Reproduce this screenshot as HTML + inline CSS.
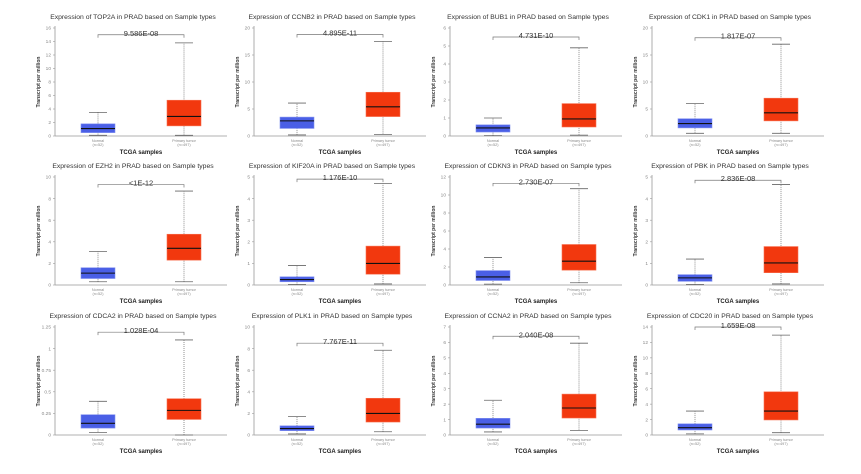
<!DOCTYPE html>
<html><head><meta charset="utf-8"><style>
body{margin:0;background:#fff;width:861px;height:474px;overflow:hidden}
svg{display:block;font-family:"Liberation Sans",sans-serif}
</style></head><body>
<svg id="c" width="861" height="474"></svg>
<script>
const genes=["TOP2A","CCNB2","BUB1","CDK1","EZH2","KIF20A","CDKN3","PBK","CDCA2","PLK1","CCNA2","CDC20"];
const yMaxes=[16,20,6,20,10,5,12,5,1.25,10,7,14];
const ySteps=[2,5,1,5,2,1,2,1,0.25,2,1,2];
const pValues=["9.586E-08","4.895E-11","4.731E-10","1.817E-07","<1E-12","1.176E-10","2.730E-07","2.836E-08","1.028E-04","7.767E-11","2.040E-08","1.659E-08"];
const bracketLevels=[15,18.8,5.5,18.2,9.3,4.9,11.3,4.85,1.19,8.5,6.4,14];
const normalStats=[[0.1,0.5,1.1,1.8,3.5],[0.2,1.4,2.8,3.5,6.1],[0.02,0.22,0.45,0.62,1.0],[0.5,1.5,2.3,3.2,6],[0.3,0.6,1.1,1.6,3.1],[0.02,0.15,0.25,0.38,0.9],[0.1,0.5,0.9,1.6,3.05],[0.02,0.17,0.33,0.48,1.2],[0.03,0.08,0.135,0.235,0.39],[0.1,0.4,0.6,0.85,1.7],[0.2,0.45,0.7,1.08,2.25],[0.15,0.65,0.95,1.45,3.1]];
const tumorStats=[[0.1,1.5,2.9,5.3,13.8],[0.3,3.6,5.4,8.1,17.5],[0.05,0.5,0.95,1.8,4.9],[0.5,2.8,4.3,7,17],[0.3,2.3,3.4,4.7,8.7],[0.05,0.5,1.0,1.8,4.7],[0.25,1.65,2.65,4.5,10.7],[0.05,0.57,1.02,1.78,4.65],[0,0.18,0.285,0.42,1.1],[0.3,1.2,2.0,3.4,7.85],[0.3,1.1,1.75,2.65,5.95],[0.3,1.95,3.1,5.6,12.95]];
const groupLabels=["Normal","Primary tumor"];
const groupN=["(n=52)","(n=497)"];

const svg=document.getElementById('c');
const NS="http://www.w3.org/2000/svg";
function mk(tag,attrs,parent,text){const e=document.createElementNS(NS,tag);for(const k in attrs)e.setAttribute(k,attrs[k]);if(text!==undefined)e.textContent=text;parent.appendChild(e);return e;}
const colX=[55,254,450,652];
const rowTop=[28,177,327];
const plotH=108;
for(let i=0;i<12;i++){
  const r=Math.floor(i/4),c=i%4;
  const ax=colX[c],yt=rowTop[r],y0=yt+plotH,xe=ax+172;
  const g=mk('g',{},svg);
  
  
  const y=v=>y0-v/yMaxes[i]*plotH;
  const cx=[ax+43,ax+129];
  const t=mk('text',{x:(ax+xe)/2-8,y:yt-9,'font-size':'6.8','text-anchor':'middle',fill:'#333'},g,'Expression of '+genes[i]+' in PRAD based on Sample types');
  
  
  mk('line',{x1:ax,y1:yt-2,x2:ax,y2:y0,stroke:'#999','stroke-width':0.8},g);
  mk('line',{x1:ax,y1:y0,x2:xe,y2:y0,stroke:'#999','stroke-width':0.8},g);
  const n=Math.round(yMaxes[i]/ySteps[i]);
  for(let k=0;k<=n;k++){const v=k*ySteps[i];const yy=y(v);
    mk('line',{x1:ax-2,y1:yy,x2:ax,y2:yy,stroke:'#999','stroke-width':0.6},g);
    const tl=mk('text',{x:ax-4,y:yy+1.7,'font-size':'4.8','text-anchor':'end',fill:'#888'},g,String(+v.toFixed(2)));
    
    }
  const yl=mk('text',{x:0,y:0,'font-size':'5','font-weight':'bold','text-anchor':'middle',fill:'#333',transform:`translate(${ax-15},${(yt+y0)/2}) rotate(-90)`},g,'Transcript per million');
  
  
  const xl=mk('text',{x:(cx[0]+cx[1])/2,y:y0+18,'font-size':'6','font-weight':'bold','text-anchor':'middle',fill:'#222'},g,'TCGA samples');
  
  
  const stats=[normalStats[i],tumorStats[i]];
  const fills=['#4a5fe6','#f2380e'];
  for(let s=0;s<2;s++){
    const d=stats[s],x=cx[s],hw=17;
    mk('line',{x1:x,y1:y(d[0]),x2:x,y2:y(d[4]),stroke:'#777','stroke-width':0.8,'stroke-dasharray':'1,1'},g);
    mk('line',{x1:x-9,y1:y(d[4]),x2:x+9,y2:y(d[4]),stroke:'#666','stroke-width':0.8},g);
    mk('line',{x1:x-9,y1:y(d[0]),x2:x+9,y2:y(d[0]),stroke:'#666','stroke-width':0.8},g);
    const b=mk('rect',{x:x-hw,y:y(d[3]),width:2*hw,height:y(d[1])-y(d[3]),fill:fills[s],stroke:s?'#f87050':'#8090f0','stroke-width':0.6},g);
    
    
    mk('line',{x1:x-hw,y1:y(d[2]),x2:x+hw,y2:y(d[2]),stroke:'#111','stroke-width':1.1},g);
    const gl=mk('text',{x:x,y:y0+6,'font-size':'3.8','text-anchor':'middle',fill:'#888'},g,groupLabels[s]);
    
    
    mk('text',{x:x,y:y0+10,'font-size':'3.8','text-anchor':'middle',fill:'#888'},g,groupN[s]);
  }
  const by=y(bracketLevels[i]);
  mk('path',{d:`M${cx[0]},${by+3}V${by}H${cx[1]}V${by+3}`,fill:'none',stroke:'#777','stroke-width':0.7},g);
  const pv=mk('text',{x:(cx[0]+cx[1])/2,y:by+1,'font-size':'7.5','text-anchor':'middle',fill:'#333'},g,pValues[i]);
  
  
}
</script>
</body></html>
